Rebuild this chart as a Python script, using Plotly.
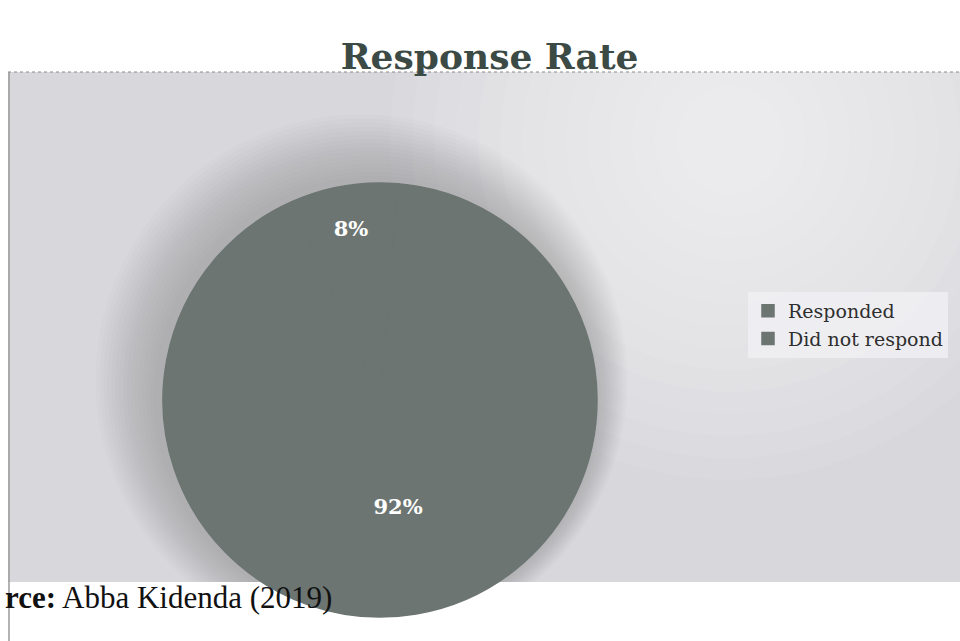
import plotly.graph_objects as go

# ---- data ----
categories = ["Responded", "Did not respond"]
shares = [8, 92]
title_text = "Response Rate"
source_text = "<b>rce:</b> Abba Kidenda (2019)"

W, H = 960, 641
def px_x(x): return x / W
def px_y(y): return 1 - y / H

pie_color = "#6c7571"

fig = go.Figure(go.Pie(
    labels=categories,
    values=shares,
    sort=False,
    direction="clockwise",
    rotation=-24,
    marker=dict(colors=[pie_color, pie_color], line=dict(color=pie_color, width=1.5)),
    textinfo="percent",
    texttemplate="%{percent:.0%}",
    textposition="inside",
    insidetextorientation="horizontal",
    textfont=dict(family="DejaVu Serif", size=21, color="white", weight="bold"),
    domain=dict(x=[px_x(162), px_x(598)], y=[px_y(617), px_y(183)]),
    hoverinfo="label+percent",
))

shapes = []
# grey chart-area background
shapes.append(dict(type="rect", xref="paper", yref="paper",
                   x0=px_x(8), x1=1.0, y0=px_y(582), y1=px_y(72),
                   fillcolor="#d7d7dc", line=dict(width=0), layer="below"))
# soft lighter highlight towards the upper right
cx, cy = 730, 140
for i in range(14):
    r = 340 - i * 22
    shapes.append(dict(type="circle", xref="paper", yref="paper",
                       x0=px_x(cx - r), x1=px_x(cx + r),
                       y0=px_y(cy + r), y1=px_y(cy - r),
                       fillcolor="white", opacity=0.065, line=dict(width=0), layer="below"))
# soft shadow around the pie (stronger towards the upper left)
for i in range(16):
    k = 16 - i
    r = 218 + 3.0 * k
    cx, cy = 376 - 0.9 * k, 398 - 1.1 * k
    shapes.append(dict(type="circle", xref="paper", yref="paper",
                       x0=px_x(cx - r), x1=px_x(cx + r),
                       y0=px_y(cy + r), y1=px_y(cy - r),
                       fillcolor="#2c3036", opacity=0.016, line=dict(width=0), layer="below"))
# white page area below and above the chart area
shapes.append(dict(type="rect", xref="paper", yref="paper",
                   x0=0, x1=1.0, y0=0, y1=px_y(582),
                   fillcolor="white", line=dict(width=0), layer="below"))
shapes.append(dict(type="rect", xref="paper", yref="paper",
                   x0=0, x1=1.0, y0=px_y(72), y1=1.0,
                   fillcolor="white", line=dict(width=0), layer="below"))
# dotted top border and left border line
shapes.append(dict(type="line", xref="paper", yref="paper",
                   x0=px_x(8), x1=1.0, y0=px_y(72), y1=px_y(72),
                   line=dict(color="#8a8a8a", width=1, dash="dot"), layer="below"))
shapes.append(dict(type="line", xref="paper", yref="paper",
                   x0=px_x(9), x1=px_x(9), y0=0, y1=px_y(72),
                   line=dict(color="#9a9a9a", width=1.5), layer="below"))

fig.update_layout(
    width=W, height=H,
    margin=dict(l=0, r=0, t=0, b=0),
    paper_bgcolor="white",
    title=dict(text=title_text, x=0.51, xanchor="center", y=px_y(56), yanchor="middle",
               font=dict(family="DejaVu Serif", size=36, color="#3c4a45", weight="bold")),
    showlegend=True,
    legend=dict(x=px_x(748), xanchor="left", y=px_y(292), yanchor="top",
                bgcolor="rgba(240,240,243,0.85)", borderwidth=0,
                font=dict(family="DejaVu Serif", size=19, color="#2e2e2e"),
                traceorder="normal"),
    shapes=shapes,
    annotations=[dict(text=source_text, xref="paper", yref="paper",
                      x=px_x(3), y=px_y(597), xanchor="left", yanchor="middle",
                      showarrow=False,
                      font=dict(family="Liberation Serif", size=31, color="#111111"))],
)

fig.write_html("out.html", config={"displayModeBar": False},
               post_script="document.body.style.margin='0';document.body.style.overflow='hidden';")
